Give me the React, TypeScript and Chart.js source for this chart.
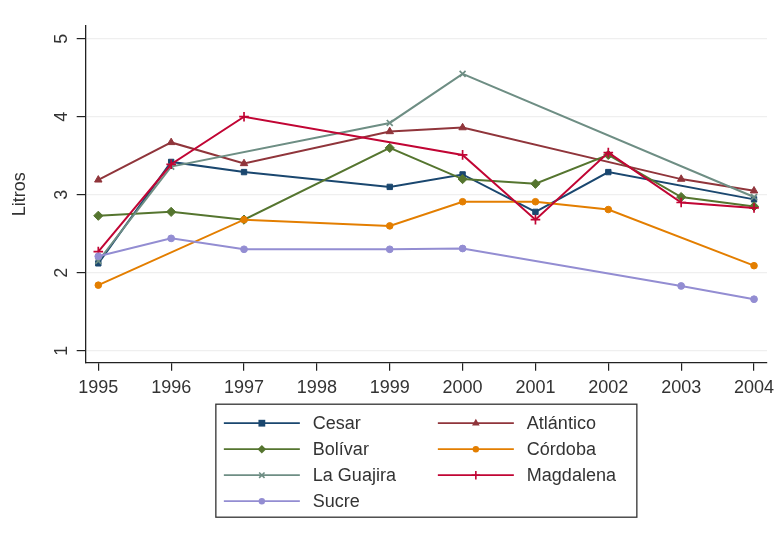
import React, { useEffect, useRef } from 'react';
import { Chart, registerables } from 'chart.js';

Chart.register(...registerables);

const years = ['1995', '1996', '1997', '1998', '1999', '2000', '2001', '2002', '2003', '2004'];
const yTicks = [1, 2, 3, 4, 5];

const cesar = [2.12, 3.42, 3.29, null, 3.1, 3.26, 2.78, 3.29, null, 2.94];
const atlantico = [3.19, 3.67, 3.4, null, 3.81, 3.86, null, null, 3.2, 3.05];
const bolivar = [2.73, 2.78, 2.68, null, 3.6, 3.2, 3.14, 3.51, 2.97, 2.85];
const cordoba = [1.84, null, 2.68, null, 2.6, 2.91, 2.91, 2.81, null, 2.09];
const laGuajira = [2.15, 3.36, null, null, 3.92, 4.55, null, null, null, 2.97];
const magdalena = [2.27, 3.39, 4.0, null, null, 3.51, 2.68, 3.54, 2.9, 2.83];
const sucre = [2.21, 2.44, 2.3, null, 2.3, 2.31, null, null, 1.83, 1.66];

const seriesNames = ['Cesar', 'Atlántico', 'Bolívar', 'Córdoba', 'La Guajira', 'Magdalena', 'Sucre'];
const seriesColors = ['#1a476f', '#90353b', '#55752f', '#e37e00', '#6e8e84', '#c10534', '#938dd2'];
const seriesMarkers = ['rect', 'triangle', 'rectRot', 'circle', 'crossRot', 'cross', 'circle'];
const markerSizes = [3.8, 4.3, 4.6, 3.3, 4.2, 4.8, 3.4];
const legendMarkerSizes = [3.4, 3.8, 4.3, 3.2, 3.6, 4.2, 3.2];

const FONT = "'Liberation Sans', Arial, Helvetica, sans-serif";
const TEXT = '#333333';

function drawMarker(ctx: CanvasRenderingContext2D, style: string, x: number, y: number, r: number, color: string) {
  ctx.save();
  ctx.fillStyle = color;
  ctx.strokeStyle = color;
  ctx.lineWidth = 1.6;
  ctx.beginPath();
  switch (style) {
    case 'rect':
      ctx.rect(x - r, y - r, 2 * r, 2 * r);
      ctx.fill();
      break;
    case 'triangle':
      ctx.moveTo(x, y - r * 1.15);
      ctx.lineTo(x + r, y + r * 0.6);
      ctx.lineTo(x - r, y + r * 0.6);
      ctx.closePath();
      ctx.fill();
      break;
    case 'rectRot':
      ctx.moveTo(x, y - r);
      ctx.lineTo(x + r, y);
      ctx.lineTo(x, y + r);
      ctx.lineTo(x - r, y);
      ctx.closePath();
      ctx.fill();
      break;
    case 'circle':
      ctx.arc(x, y, r, 0, Math.PI * 2);
      ctx.fill();
      break;
    case 'cross':
      ctx.moveTo(x, y - r);
      ctx.lineTo(x, y + r);
      ctx.moveTo(x - r, y);
      ctx.lineTo(x + r, y);
      ctx.stroke();
      break;
    case 'crossRot': {
      const d = r * 0.75;
      ctx.moveTo(x - d, y - d);
      ctx.lineTo(x + d, y + d);
      ctx.moveTo(x + d, y - d);
      ctx.lineTo(x - d, y + d);
      ctx.stroke();
      break;
    }
  }
  ctx.restore();
}

const boxLegend = {
  id: 'boxLegend',
  afterDraw(chart: any) {
    const { ctx, chartArea } = chart;
    const bw = 421;
    const bh = 113;
    const cx = (chartArea.left + chartArea.right) / 2;
    const left = cx - bw / 2;
    const top = chartArea.bottom + 41.5;
    ctx.save();
    ctx.strokeStyle = '#333333';
    ctx.lineWidth = 1.3;
    ctx.strokeRect(left, top, bw, bh);
    ctx.font = `18px ${FONT}`;
    ctx.textBaseline = 'middle';
    ctx.textAlign = 'left';
    chart.data.datasets.forEach((ds: any, i: number) => {
      const col = i % 2;
      const row = Math.floor(i / 2);
      const y = top + 19 + row * 26;
      const lx = left + 8 + col * 214;
      ctx.strokeStyle = ds.borderColor;
      ctx.lineWidth = 1.7;
      ctx.beginPath();
      ctx.moveTo(lx, y);
      ctx.lineTo(lx + 76, y);
      ctx.stroke();
      drawMarker(ctx, seriesMarkers[i], lx + 38, y, legendMarkerSizes[i], ds.borderColor);
      ctx.fillStyle = TEXT;
      ctx.fillText(ds.label, lx + 89, y + 1);
    });
    ctx.restore();
  },
};

export default function App() {
  const ref = useRef<HTMLCanvasElement>(null);

  useEffect(() => {
    if (!ref.current) return;
    const values = [cesar, atlantico, bolivar, cordoba, laGuajira, magdalena, sucre];
    const datasets = values.map((arr, i) => ({
      label: seriesNames[i],
      data: arr.map((v, j) => ({ x: j, y: v })),
      borderColor: seriesColors[i],
      backgroundColor: seriesColors[i],
      pointBackgroundColor: seriesColors[i],
      pointBorderColor: seriesColors[i],
      pointStyle: seriesMarkers[i],
      pointRadius: markerSizes[i],
      pointBorderWidth: seriesMarkers[i] === 'cross' || seriesMarkers[i] === 'crossRot' ? 1.7 : 1,
      borderWidth: 2,
      tension: 0,
      spanGaps: true,
      order: values.length - i,
    }));

    const chart = new Chart(ref.current, {
      type: 'line',
      data: { datasets },
      plugins: [boxLegend],
      options: {
        animation: false,
        responsive: false,
        layout: { padding: { left: 0, top: 26, right: 16, bottom: 0 } },
        plugins: { legend: { display: false }, tooltip: { enabled: false } },
        scales: {
          x: {
            type: 'linear',
            min: -0.173,
            max: 9.178,
            afterBuildTicks: (s: any) => {
              s.ticks = years.map((_, i) => ({ value: i }));
            },
            afterFit: (s: any) => {
              s.height = 537 - 362.7;
            },
            ticks: {
              autoSkip: false,
              maxRotation: 0,
              minRotation: 0,
              padding: 7,
              color: TEXT,
              font: { family: FONT, size: 18 },
              callback: (v: any) => years[v as number],
            },
            grid: { drawOnChartArea: false, tickLength: 8, tickColor: '#222222', lineWidth: 1.2 },
            border: { color: '#222222', width: 1.3 },
          },
          y: {
            type: 'linear',
            min: 0.846,
            max: 5.163,
            afterBuildTicks: (s: any) => {
              s.ticks = yTicks.map((v) => ({ value: v }));
            },
            afterFit: (s: any) => {
              s.width = 85.7;
            },
            ticks: {
              minRotation: 90,
              maxRotation: 90,
              crossAlign: 'center',
              padding: 10,
              color: TEXT,
              font: { family: FONT, size: 18 },
            },
            grid: { color: '#efefef', tickColor: '#222222', tickLength: 9, lineWidth: 1.2 },
            border: { color: '#222222', width: 1.3 },
            title: {
              display: true,
              text: 'Litros',
              color: TEXT,
              font: { family: FONT, size: 18 },
              padding: { top: 9, bottom: 0 },
            },
          },
        },
      },
    } as any);

    return () => chart.destroy();
  }, []);

  return (
    <div style={{ position: 'fixed', left: 0, top: 0, width: 783, height: 537, background: '#ffffff' }}>
      <canvas ref={ref} width={783} height={537} style={{ display: 'block', width: 783, height: 537 }} />
    </div>
  );
}
